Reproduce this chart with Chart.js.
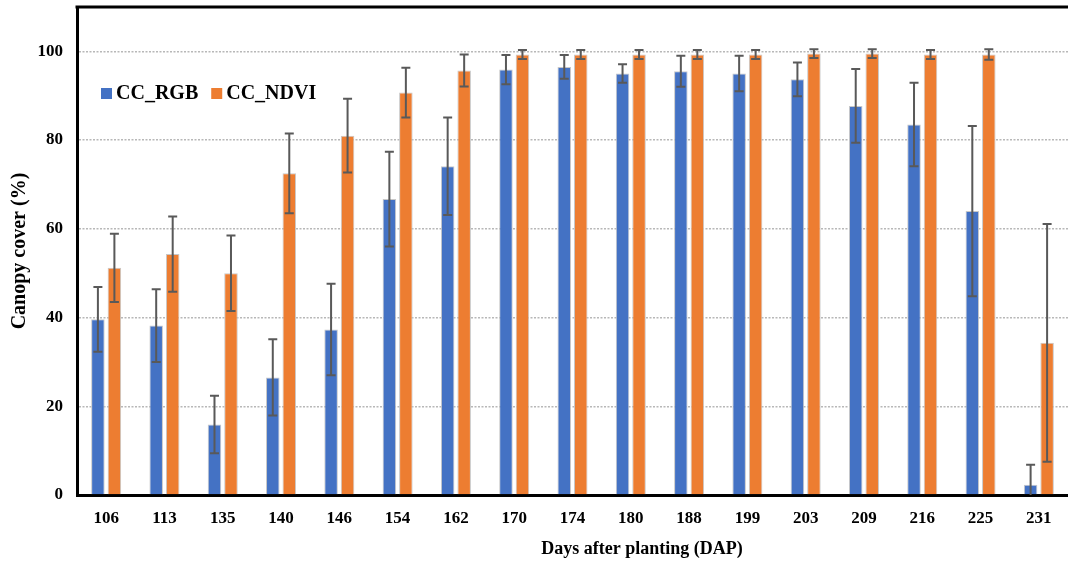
<!DOCTYPE html>
<html>
<head>
<meta charset="utf-8">
<script src="https://cdn.jsdelivr.net/npm/chart.js@4/dist/chart.umd.min.js"></script>
<style>
  html, body { margin: 0; padding: 0; background: #fff; }
  #wrap { width: 1068px; height: 562px; position: relative; }
</style>
</head>
<body>
<div id="wrap"><canvas id="c" width="1068" height="562"></canvas></div>
<script>
const categories = ['106','113','135','140','146','154','162','170','174','180','188','199','203','209','216','225','231'];
const ccRGB      = [39.6, 38.2, 15.9, 26.5, 37.3, 66.7, 74.1, 95.9, 96.5, 95.0, 95.5, 95.0, 93.7, 87.7, 83.5, 64.0, 2.3];
const ccRGBErr   = [7.3, 8.2, 6.5, 8.6, 10.3, 10.7, 11.0, 3.3, 2.7, 2.1, 3.5, 4.0, 3.8, 8.3, 9.4, 19.2, 4.5];
const ccNDVI     = [51.2, 54.3, 50.0, 72.5, 81.0, 90.7, 95.7, 99.3, 99.3, 99.3, 99.3, 99.3, 99.5, 99.5, 99.3, 99.3, 34.3];
const ccNDVIErr  = [7.7, 8.5, 8.5, 9.0, 8.3, 5.6, 3.6, 1.0, 1.0, 1.0, 1.0, 1.0, 1.0, 1.0, 1.0, 1.2, 26.8];
const yTicks     = [0, 20, 40, 60, 80, 100];
const seriesNames = ['CC_RGB', 'CC_NDVI'];
const xTitle = 'Days after planting (DAP)';
const yTitle = 'Canopy cover (%)';

const FONT = "'Liberation Serif', 'Times New Roman', serif";
const errors = [ccRGBErr, ccNDVIErr];

const errorBarPlugin = {
  id: 'errorBars',
  afterDatasetsDraw(chart) {
    const ctx = chart.ctx, y = chart.scales.y, a = chart.chartArea;
    ctx.save();
    ctx.beginPath();
    ctx.rect(a.left, a.top, a.right - a.left, a.bottom - a.top);
    ctx.clip();
    ctx.strokeStyle = '#595959';
    ctx.lineWidth = 2;
    chart.data.datasets.forEach((ds, di) => {
      const meta = chart.getDatasetMeta(di);
      meta.data.forEach((bar, i) => {
        const v = ds.data[i], e = errors[di][i];
        const yt = y.getPixelForValue(v + e), yb = y.getPixelForValue(v - e);
        const x = bar.x, cw = 4.5;
        ctx.beginPath();
        ctx.moveTo(x, yt); ctx.lineTo(x, yb);
        ctx.moveTo(x - cw, yt); ctx.lineTo(x + cw, yt);
        ctx.moveTo(x - cw, yb); ctx.lineTo(x + cw, yb);
        ctx.stroke();
      });
    });
    ctx.restore();
  }
};

const framePlugin = {
  id: 'frame',
  afterDraw(chart) {
    const ctx = chart.ctx, a = chart.chartArea;
    ctx.save();
    ctx.strokeStyle = '#000';
    ctx.lineWidth = 3;
    ctx.beginPath();
    ctx.moveTo(a.left - 1.5, a.top);
    ctx.lineTo(a.right, a.top);
    ctx.stroke();
    ctx.font = 'bold 20px ' + FONT;
    ctx.textBaseline = 'middle';
    ctx.textAlign = 'left';
    let x = a.left + 24;
    const yMid = 94;
    chart.data.datasets.forEach((ds) => {
      ctx.fillStyle = ds.backgroundColor;
      ctx.fillRect(x, yMid - 6, 11, 11);
      ctx.fillStyle = '#000';
      ctx.fillText(ds.label, x + 15, yMid);
      x += 15 + ctx.measureText(ds.label).width + 13;
    });
    ctx.font = 'bold 18px ' + FONT;
    ctx.textAlign = 'center';
    ctx.fillText(xTitle, 642, 549);
    ctx.restore();
  }
};

new Chart(document.getElementById('c'), {
  type: 'bar',
  data: {
    labels: categories,
    datasets: [
      { label: seriesNames[0], data: ccRGB, backgroundColor: '#4472C4', borderColor: '#c8c8c8', borderWidth: 1 },
      { label: seriesNames[1], data: ccNDVI, backgroundColor: '#ED7D31', borderColor: '#c8c8c8', borderWidth: 1 }
    ]
  },
  options: {
    responsive: false,
    animation: false,
    devicePixelRatio: 1,
    layout: { padding: { top: 7, left: 0, right: 0, bottom: 0 } },
    categoryPercentage: 0.566,
    barPercentage: 0.82,
    plugins: { legend: { display: false }, tooltip: { enabled: false } },
    scales: {
      x: {
        grid: { display: false, drawTicks: false },
        border: { display: true, color: '#000', width: 3 },
        ticks: { color: '#000', font: { family: FONT, size: 17, weight: 'bold' }, padding: 13, maxRotation: 0 },
        afterFit(s) { s.height = 67; s.paddingLeft = 0; s.paddingRight = 0; }
      },
      y: {
        min: 0, max: 110,
        grid: {
          drawTicks: false,
          color: (c) => (c.tick && yTicks.includes(c.tick.value) && c.tick.value !== 0) ? '#b8b8b8' : 'rgba(0,0,0,0)',
          lineWidth: 1.5
        },
        border: { display: true, color: '#000', width: 3, dash: [2, 1.5] },
        ticks: {
          stepSize: 20, includeBounds: false, color: '#000', padding: 14,
          font: { family: FONT, size: 17, weight: 'bold' }
        },
        title: { display: true, text: yTitle, color: '#000', font: { family: FONT, size: 20, weight: 'bold' }, padding: { top: 8, bottom: 0 } },
        afterFit(s) { s.width = 77; s.paddingTop = 0; s.paddingBottom = 0; }
      }
    }
  },
  plugins: [errorBarPlugin, framePlugin]
});
</script>
</body>
</html>
